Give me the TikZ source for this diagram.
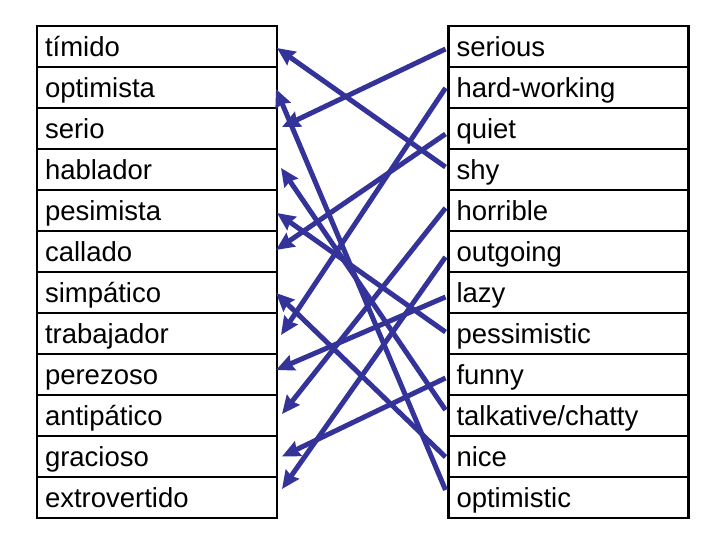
\documentclass[tikz,border=0pt]{standalone}
\usepackage{fontspec}
\setmainfont{Liberation Sans}
\usetikzlibrary{arrows.meta}
\definecolor{linkblue}{RGB}{51,51,153}
\tikzset{
	word/.style={draw, line width=1.5pt, outer sep=0pt, inner xsep=8pt, inner ysep=0pt,
		text width=224pt, minimum height=41pt, text height=24pt, text depth=4.5pt,
		align=left, font=\fontsize{27.5}{30}\selectfont},
	link/.style={-{Stealth[length=18pt, width=16pt, inset=2pt]}, draw=linkblue, fill=linkblue, line width=5pt}
}
\begin{document}
\begin{tikzpicture}[x=1pt, y=-1pt, node distance=41pt]
	\useasboundingbox (0,0) rectangle (720,540);
	% Spanish column
	\node (timido) [word] at (157,46.5) {tímido};
	\node (optimista) [word, below of=timido] {optimista};
	\node (serio) [word, below of=optimista] {serio};
	\node (hablador) [word, below of=serio] {hablador};
	\node (pesimista) [word, below of=hablador] {pesimista};
	\node (callado) [word, below of=pesimista] {callado};
	\node (simpatico) [word, below of=callado] {simpático};
	\node (trabajador) [word, below of=simpatico] {trabajador};
	\node (perezoso) [word, below of=trabajador] {perezoso};
	\node (antipatico) [word, below of=perezoso] {antipático};
	\node (gracioso) [word, below of=antipatico] {gracioso};
	\node (extrovertido) [word, below of=gracioso] {extrovertido};
	\draw[line width=2.5pt] (timido.north west) rectangle (extrovertido.south east);

	% English column
	\node (serious) [word] at (568.5,46.5) {serious};
	\node (hardworking) [word, below of=serious] {hard-working};
	\node (quiet) [word, below of=hardworking] {quiet};
	\node (shy) [word, below of=quiet] {shy};
	\node (horrible) [word, below of=shy] {horrible};
	\node (outgoing) [word, below of=horrible] {outgoing};
	\node (lazy) [word, below of=outgoing] {lazy};
	\node (pessimistic) [word, below of=lazy] {pessimistic};
	\node (funny) [word, below of=pessimistic] {funny};
	\node (talkative) [word, below of=funny] {talkative/chatty};
	\node (nice) [word, below of=talkative] {nice};
	\node (optimistic) [word, below of=nice] {optimistic};
	\draw[line width=2.5pt] (serious.north west) rectangle (optimistic.south east);

	% matching lines
	\draw[link] ([shift={(-3,-2.5)}]shy.west) -- ([shift={(0,1.5)}]timido.east);
	\draw[link] ([shift={(-3,-7.5)}]optimistic.west) -- ([shift={(-1,1.5)}]optimista.east);
	\draw[link] ([shift={(-3,2.5)}]serious.west) -- ([shift={(5,-1.5)}]serio.east);
	\draw[link] ([shift={(-3,-5.5)}]talkative.west) -- ([shift={(4,-1.5)}]hablador.east);
	\draw[link] ([shift={(-3,-1.5)}]pessimistic.west) -- ([shift={(0,2.5)}]pesimista.east);
	\draw[link] ([shift={(-3,5.5)}]quiet.west) -- ([shift={(-1,-1.5)}]callado.east);
	\draw[link] ([shift={(-3,0.5)}]nice.west) -- ([shift={(-1,0.5)}]simpatico.east);
	\draw[link] ([shift={(-3,0.5)}]hardworking.west) -- ([shift={(4,1.5)}]trabajador.east);
	\draw[link] ([shift={(-3,4.5)}]lazy.west) -- ([shift={(-1,-4.5)}]perezoso.east);
	\draw[link] ([shift={(-3,-2.5)}]horrible.west) -- ([shift={(5,-1.5)}]antipatico.east);
	\draw[link] ([shift={(-3,3.5)}]funny.west) -- ([shift={(5,0)}]gracioso.east);
	\draw[link] ([shift={(-3,5.5)}]outgoing.west) -- ([shift={(5,-8.5)}]extrovertido.east);
\end{tikzpicture}
\end{document}
